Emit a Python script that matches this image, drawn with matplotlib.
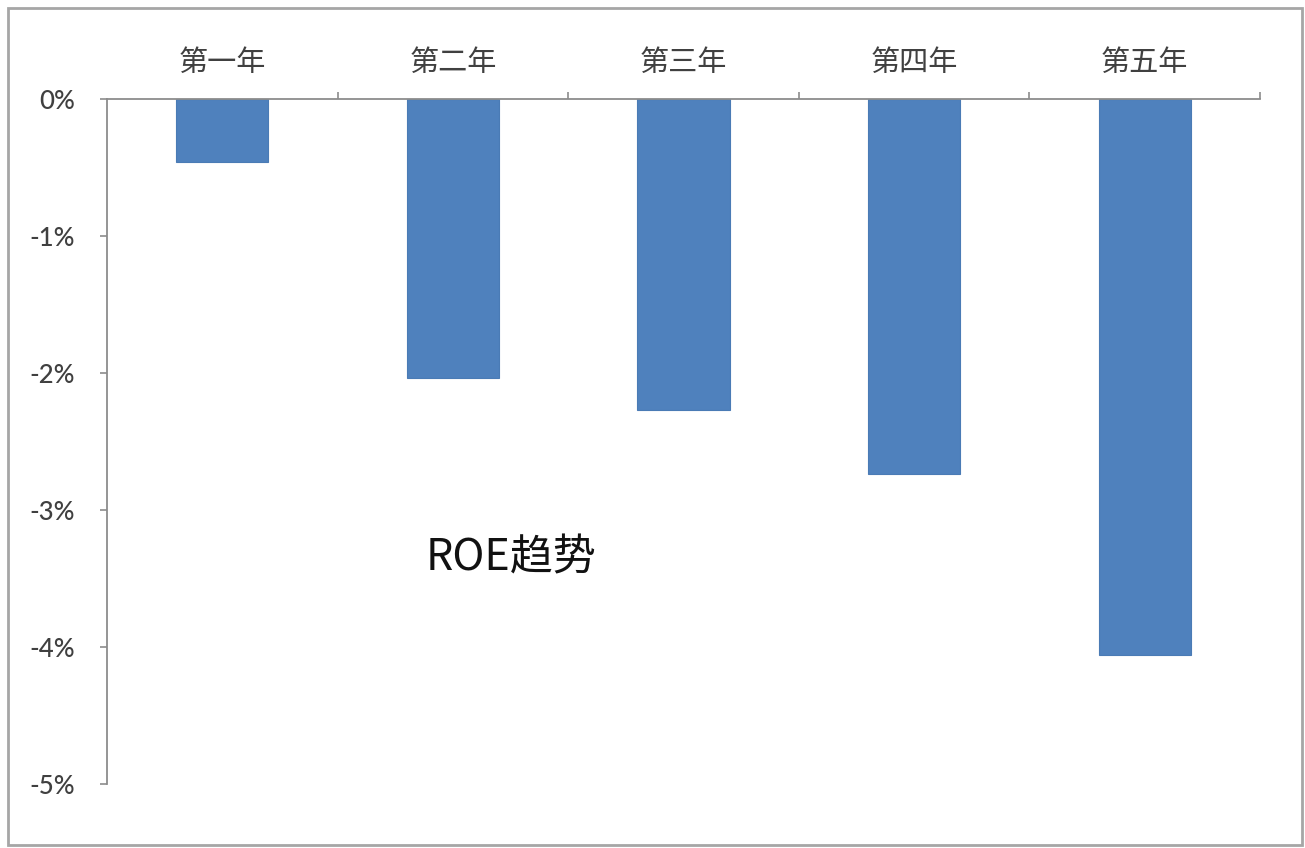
import matplotlib
matplotlib.use("Agg")
import matplotlib.pyplot as plt
from matplotlib.patches import Rectangle
from matplotlib.ticker import FuncFormatter

categories = ["第一年", "第二年", "第三年", "第四年", "第五年"]
roe = [-0.46, -2.04, -2.27, -2.74, -4.06]  # percent
yticks = [0, -1, -2, -3, -4, -5]

plt.rcParams['font.family'] = ['Noto Sans CJK SC', 'DejaVu Sans']

fig = plt.figure(figsize=(13.05, 8.48), dpi=100)
fig.patch.set_facecolor('white')
# outer frame
fig.patches.append(Rectangle((8/1305, 3/848), 1294/1305, 837/848, transform=fig.transFigure,
                             fill=False, edgecolor='#a6a6a6', linewidth=2.0))

ax = fig.add_axes([107/1305, 1-784/848, (1260-107)/1305, (784-99)/848])
x = list(range(len(categories)))
ax.bar(x, roe, width=0.4, color='#4F81BD', edgecolor='#4A7BB5', linewidth=0.8, zorder=2)

ax.set_xlim(-0.5, len(categories) - 0.5)
ax.set_ylim(-5, 0)
ax.set_yticks(yticks)
ax.yaxis.set_major_formatter(FuncFormatter(lambda v, p: f"{int(round(v))}%"))

for s in ['right', 'bottom']:
    ax.spines[s].set_visible(False)
for s in ['left', 'top']:
    ax.spines[s].set_color('#8c8c8c')
    ax.spines[s].set_linewidth(1.3)

ax.xaxis.tick_top()
ax.set_xticks(x)
ax.set_xticklabels(categories)
ax.set_xticks([i + 0.5 for i in x], minor=True)
ax.tick_params(axis='x', which='major', length=0, pad=15, labelsize=21, labelcolor='#404040')
ax.tick_params(axis='x', which='minor', direction='out', length=5, width=1.2, color='#8c8c8c')
ax.tick_params(axis='y', direction='out', length=5, width=1.2, color='#8c8c8c',
               pad=18, labelsize=18.5, labelcolor='#404040')
for lab in ax.get_xticklabels():
    lab.set_fontfamily(['Noto Sans CJK SC', 'DejaVu Sans'])
for lab in ax.get_yticklabels():
    lab.set_fontfamily(['Lato', 'DejaVu Sans'])
    lab.set_fontweight('medium')

ax.text(1.25, -3.35, "ROE趋势", fontsize=31, color='#111111', ha='center', va='center',
        fontweight='medium', family=['Noto Sans CJK SC', 'DejaVu Sans'])

fig.savefig("out.png", dpi=100, facecolor='white')
